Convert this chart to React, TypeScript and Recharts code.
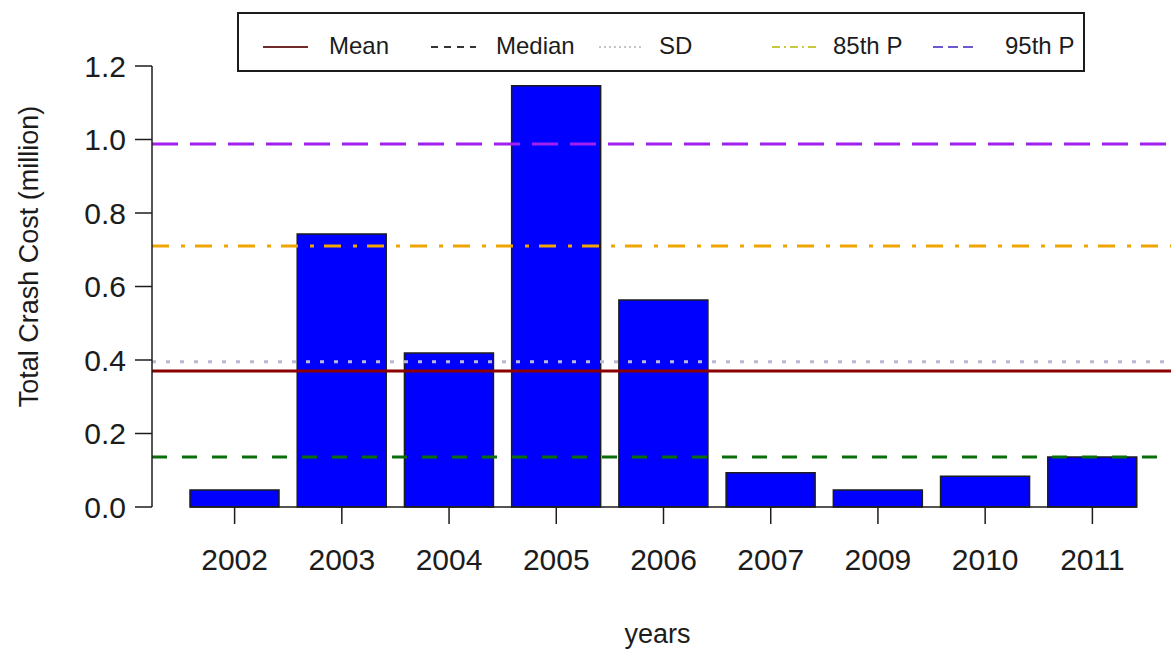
import {
  ComposedChart,
  Bar,
  XAxis,
  YAxis,
  ReferenceLine,
  Legend,
} from 'recharts';

// values
const years = ['2002', '2003', '2004', '2005', '2006', '2007', '2009', '2010', '2011'];
const crashCost = [0.046, 0.743, 0.419, 1.146, 0.563, 0.093, 0.046, 0.084, 0.136];
const yTicks = [0, 0.2, 0.4, 0.6, 0.8, 1.0, 1.2];

const statNames = ['Mean', 'Median', 'SD', '85th P', '95th P'];
const statValues = [0.37, 0.136, 0.395, 0.71, 0.988];

const FONT = '"Liberation Sans", Arial, sans-serif';
const INK = '#1c1c1c';

// plot line styles, in the same order as statNames
const STAT_STYLE = [
  { color: '#8b0000', dash: undefined },
  { color: '#0a6e0a', dash: '15 15' },
  { color: '#b9b9d6', dash: '4 10' },
  { color: '#f0a500', dash: '17 12 4 10' },
  { color: '#a020f0', dash: '26 12' },
];

// legend keys look different from the plotted lines in the original
const LEGEND_STYLE = [
  { color: '#6e2a2a', dash: undefined, key: 24, text: 90 },
  { color: '#333333', dash: '7 6', key: 192, text: 257 },
  { color: '#c4c4c4', dash: '2 3', key: 360, text: 420 },
  { color: '#c9c93c', dash: '8 4 2 4', key: 533, text: 594 },
  { color: '#6a5acd', dash: '10 5', key: 694, text: 766 },
];

const data = years.map((year, i) => ({ year, cost: crashCost[i] }));

function LegendBox() {
  return (
    <div
      style={{
        position: 'relative',
        width: 848,
        height: 60,
        border: `2px solid ${INK}`,
        boxSizing: 'border-box',
        background: '#fff',
        fontFamily: FONT,
        fontSize: 24,
        color: INK,
      }}
    >
      {statNames.map((name, i) => {
        const s = LEGEND_STYLE[i];
        return (
          <div key={name}>
            <svg
              width={45}
              height={10}
              style={{ position: 'absolute', left: s.key, top: 28 }}
            >
              <line x1={0} y1={5} x2={45} y2={5} stroke={s.color} strokeWidth={2} strokeDasharray={s.dash} />
            </svg>
            <span style={{ position: 'absolute', left: s.text, top: 18, lineHeight: '28px' }}>{name}</span>
          </div>
        );
      })}
    </div>
  );
}

function Baseline(props: any) {
  const { x1, y1, x2, y2 } = props;
  return <line x1={x1 + 38} y1={y1} x2={x2 - 38} y2={y2} stroke={INK} strokeWidth={1.5} />;
}

export default function App() {
  return (
    <div
      style={{
        position: 'absolute',
        left: 0,
        top: 0,
        width: 1171,
        height: 652,
        overflow: 'hidden',
        background: '#fff',
      }}
    >
      <ComposedChart
        width={1175}
        height={652}
        data={data}
        margin={{ top: 66, right: 0, bottom: 65, left: 0 }}
      >
        <XAxis
          dataKey="year"
          padding={{ left: 29, right: 29 }}
          axisLine={false}
          tickLine={{ stroke: INK, strokeWidth: 1.5 }}
          tickSize={17}
          tickMargin={25}
          interval={0}
          height={80}
          tick={{ fill: INK, fontSize: 30, fontFamily: FONT }}
          label={{
            value: 'years',
            position: 'insideBottom',
            offset: 0,
            dx: -6,
            dy: 56,
            fill: INK,
            fontSize: 27,
            fontFamily: FONT,
          }}
        />
        <YAxis
          domain={[0, 1.2]}
          ticks={yTicks}
          tickFormatter={(v: number) => v.toFixed(1)}
          width={152}
          axisLine={{ stroke: INK, strokeWidth: 1.5 }}
          tickLine={{ stroke: INK, strokeWidth: 1.5 }}
          tickSize={17}
          tickMargin={9}
          tick={{ fill: INK, fontSize: 30, fontFamily: FONT }}
          label={{
            value: 'Total Crash Cost (million)',
            angle: -90,
            position: 'center',
            dx: -48,
            dy: -30,
            fill: INK,
            fontSize: 27,
            fontFamily: FONT,
          }}
        />
        <Legend
          layout="horizontal"
          align="center"
          verticalAlign="middle"
          content={() => <LegendBox />}
          wrapperStyle={{ top: 12, left: 237, width: 848, height: 60 }}
        />
        <Bar
          dataKey="cost"
          fill="#0000ff"
          stroke={INK}
          strokeWidth={1.5}
          barSize={89}
          isAnimationActive={false}
        />
        <ReferenceLine y={0} shape={Baseline} />
        {statValues.map((v, i) => (
          <ReferenceLine
            key={statNames[i]}
            y={v}
            stroke={STAT_STYLE[i].color}
            strokeWidth={3}
            strokeDasharray={STAT_STYLE[i].dash}
          />
        ))}
      </ComposedChart>
    </div>
  );
}
